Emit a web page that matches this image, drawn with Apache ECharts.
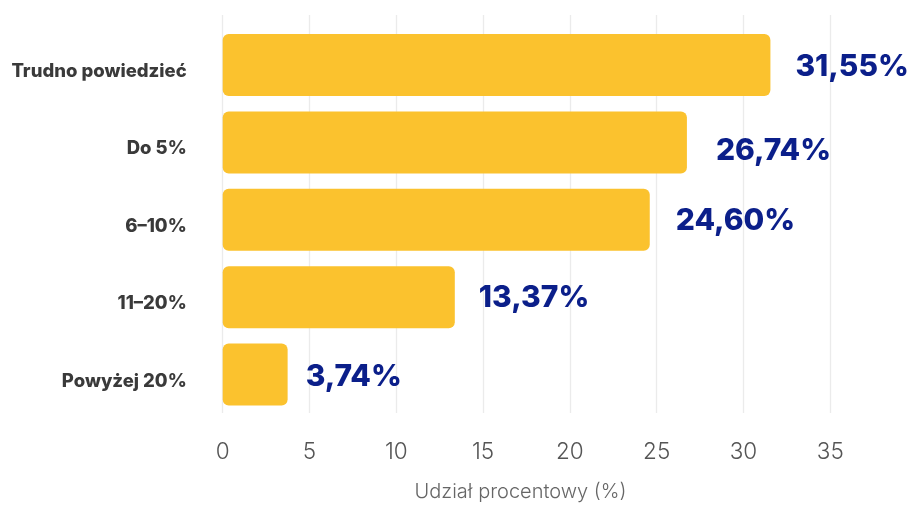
<!DOCTYPE html>
<html>
<head>
<meta charset="utf-8">
<script src="https://cdn.jsdelivr.net/npm/echarts@6/dist/echarts.min.js"></script>
<style>
  html, body { margin: 0; padding: 0; background: #ffffff; }
  #chart { width: 909px; height: 507px; }
</style>
</head>
<body>
<div id="chart"></div>
<script>
// Udział odpowiedzi w poszczególnych przedziałach (%)
const categories = ['Trudno powiedzieć', 'Do 5%', '6–10%', '11–20%', 'Powyżej 20%'];
const shares = [31.55, 26.74, 24.60, 13.37, 3.74];
const xTicks = { min: 0, max: 35, interval: 5 };
const xAxisTitle = 'Udział procentowy (%)';

// small nudges of individual value labels
const labelOffsets = [[0, 2], [4, 9], [1, 1], [-1, 1], [-7, 2]];

const chart = echarts.init(document.getElementById('chart'), null, { renderer: 'canvas' });

const left = 222.7, right = 909 - 830.3;

chart.setOption({
  animation: false,
  backgroundColor: '#ffffff',
  grid: [
    // bars
    { left: left, right: right, top: 26.3, bottom: 507 - 413.3, containLabel: false },
    // value axis with gridlines spanning a slightly taller area
    { left: left, right: right, top: 15, bottom: 507 - 425, containLabel: false }
  ],
  xAxis: [
    {
      gridIndex: 0, type: 'value', min: xTicks.min, max: xTicks.max, interval: xTicks.interval,
      show: false
    },
    {
      gridIndex: 1, type: 'value', min: xTicks.min, max: xTicks.max, interval: xTicks.interval,
      axisLine: { show: false },
      axisTick: { show: false },
      splitLine: { show: true, lineStyle: { color: '#ebebeb', width: 1.3 } },
      axisLabel: {
        margin: 28, color: '#555555', fontFamily: 'Inter', fontWeight: 300, fontSize: 22.5
      },
      name: xAxisTitle,
      nameLocation: 'middle',
      nameGap: 69,
      nameTextStyle: {
        color: '#666666', fontFamily: 'Inter', fontWeight: 300, fontSize: 20,
        padding: [0, 12, 0, 0]
      }
    }
  ],
  yAxis: [
    {
      gridIndex: 0, type: 'category', data: categories, inverse: true,
      axisLine: { show: false }, axisTick: { show: false }, splitLine: { show: false },
      axisLabel: {
        margin: 36, color: '#3a3a3a', fontFamily: 'Inter', fontWeight: 800, fontSize: 18.5,
        verticalAlign: 'top', lineHeight: 13
      }
    },
    { gridIndex: 1, type: 'value', min: 0, max: 1, show: false }
  ],
  series: [
    {
      type: 'bar',
      xAxisIndex: 0, yAxisIndex: 0,
      data: shares.map((v, i) => ({ value: v, label: { offset: labelOffsets[i] } })),
      barWidth: 62,
      itemStyle: { color: '#fbc22e', borderRadius: 6 },
      label: {
        show: true,
        position: 'right',
        distance: 25,
        color: '#0b1f8a',
        fontFamily: 'Inter',
        fontWeight: 800,
        fontSize: 30,
        formatter: p => p.value.toFixed(2).replace('.', ',') + '%'
      }
    }
  ]
});
</script>
</body>
</html>
